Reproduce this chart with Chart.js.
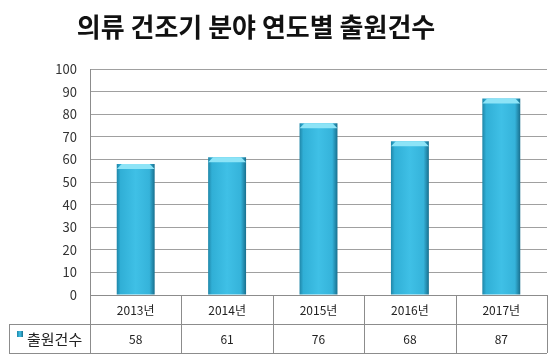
<!DOCTYPE html>
<html>
<head>
<meta charset="utf-8">
<script src="https://cdn.jsdelivr.net/npm/chart.js@4"></script>
<style>
  html,body{margin:0;padding:0;background:#fff}
  #wrap{width:560px;height:364px}
</style>
</head>
<body>
<div id="wrap"><canvas id="c" width="560" height="364"></canvas></div>
<script>
const years = ['2013년','2014년','2015년','2016년','2017년']
const counts = [58,61,76,68,87]
const seriesName = '출원건수'
const titleText = '의류 건조기 분야 연도별 출원건수'

const FONT = '"Noto Sans CJK KR", "Noto Sans", sans-serif'
const LINE = '#8c8c8c'
const BAR_PCT = 0.415

function barFill(ctx){
  const chart = ctx.chart
  const x = chart.scales && chart.scales.x
  if (!chart.chartArea || !x || ctx.dataIndex == null) return '#2aa9cf'
  const cx = x.getPixelForValue(ctx.dataIndex)
  const w = (chart.chartArea.width / years.length) * BAR_PCT
  const g = chart.ctx.createLinearGradient(cx - w/2, 0, cx + w/2, 0)
  g.addColorStop(0, '#1f86a8')
  g.addColorStop(0.1, '#30afd6')
  g.addColorStop(0.5, '#3fc0e6')
  g.addColorStop(0.86, '#35b3da')
  g.addColorStop(1, '#186f8e')
  return g
}

// light bevel on top of each bar
const bevel = {
  id:'bevel',
  afterDatasetsDraw(chart){
    const c = chart.ctx
    chart.getDatasetMeta(0).data.forEach(b=>{
      const l = b.x - b.width/2, r = b.x + b.width/2, t = b.y
      c.save()
      c.fillStyle = '#8de4f7'
      c.beginPath()
      c.moveTo(l, t+5); c.lineTo(l+5, t); c.lineTo(r-5, t); c.lineTo(r, t+5)
      c.closePath(); c.fill()
      c.restore()
    })
  }
}

// title drawn by hand so it can sit left of the plot centre
const heading = {
  id:'heading',
  afterDraw(chart){
    const c = chart.ctx
    c.save()
    c.fillStyle = '#111'; c.textAlign = 'center'; c.textBaseline = 'middle'
    c.font = 'bold 26px ' + FONT
    c.fillText(titleText, 256, 27)
    c.restore()
  }
}

// data table under the plot
const table = {
  id:'table',
  afterDraw(chart){
    const c = chart.ctx, a = chart.chartArea, x = chart.scales.x
    const step = a.width / years.length
    const y0 = Math.round(a.bottom), y1 = y0 + 29, y2 = y1 + 29, left = 9
    c.save()
    c.strokeStyle = LINE; c.lineWidth = 1
    c.beginPath()
    c.moveTo(a.left, y0+0.5); c.lineTo(a.right, y0+0.5)
    c.moveTo(left, y1+0.5); c.lineTo(a.right, y1+0.5)
    c.moveTo(left, y2+0.5); c.lineTo(a.right, y2+0.5)
    c.moveTo(left+0.5, y1); c.lineTo(left+0.5, y2)
    for (let i=0;i<=years.length;i++){
      const px = Math.round(a.left + step*i) + 0.5
      c.moveTo(px, y0); c.lineTo(px, y2)
    }
    c.stroke()
    c.fillStyle = '#222'; c.textAlign = 'center'; c.textBaseline = 'middle'
    c.font = '12px ' + FONT
    years.forEach((t,i)=> c.fillText(t, x.getPixelForValue(i), (y0+y1)/2 + 1))
    c.font = '12px ' + FONT
    counts.forEach((v,i)=> c.fillText(String(v), x.getPixelForValue(i), (y1+y2)/2 + 1))
    // legend key
    const kg = c.createLinearGradient(17,0,23,0)
    kg.addColorStop(0,'#1f86a8'); kg.addColorStop(0.5,'#3fc0e6'); kg.addColorStop(1,'#186f8e')
    c.fillStyle = kg; c.fillRect(17, y1+7, 6, 6)
    c.fillStyle = '#222'; c.textAlign = 'left'
    c.font = '15px ' + FONT
    c.fillText(seriesName, 27, (y1+y2)/2 + 1)
    c.restore()
  }
}

new Chart(document.getElementById('c'),{
  type:'bar',
  data:{labels:years,datasets:[{label:seriesName,data:counts,backgroundColor:barFill,
    categoryPercentage:1,barPercentage:BAR_PCT,borderWidth:0}]},
  options:{
    responsive:false,animation:false,
    layout:{padding:{left:0,right:13,bottom:69,top:69}},
    plugins:{legend:{display:false},tooltip:{enabled:false},title:{display:false}},
    scales:{
      x:{display:false},
      y:{min:0,max:100,
        ticks:{stepSize:10,color:'#333',font:{family:FONT,size:13},padding:13},
        grid:{color:'#a0a0a0',drawTicks:false},
        border:{color:LINE},
        afterFit(s){ s.width = 90 }}
    }
  },
  plugins:[bevel,heading,table]
})
</script>
</body>
</html>
